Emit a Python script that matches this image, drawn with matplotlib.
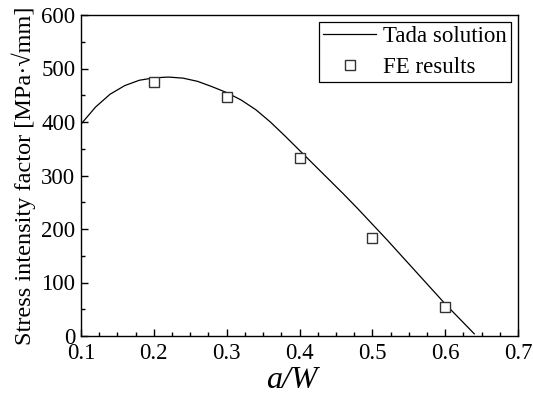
import matplotlib
matplotlib.use("Agg")
import matplotlib.pyplot as plt
from matplotlib.ticker import MultipleLocator

# Tada solution curve
tada_x = [0.10, 0.12, 0.14, 0.16, 0.18, 0.20, 0.22, 0.24, 0.26, 0.28, 0.30,
          0.32, 0.34, 0.36, 0.38, 0.40, 0.42, 0.44, 0.46, 0.48, 0.50,
          0.52, 0.54, 0.56, 0.58, 0.60, 0.62, 0.64]
tada_y = [396, 428, 452, 468, 478, 482.5, 484, 482, 476, 466, 455,
          441, 423, 400, 374, 347, 320, 293, 266, 238, 209,
          180, 150, 120, 90, 60, 32, 4]

# FE results
fe_x = [0.2, 0.3, 0.4, 0.5, 0.6]
fe_y = [475, 447, 332, 184, 55]

xticks = [0.1, 0.2, 0.3, 0.4, 0.5, 0.6, 0.7]
yticks = [0, 100, 200, 300, 400, 500, 600]

plt.rcParams['font.family'] = ['Liberation Serif', 'DejaVu Serif']

fig = plt.figure(figsize=(5.33, 3.94), dpi=100)
ax = fig.add_axes([81/533, 1 - 336/394, (518-81)/533, (336-15)/394])

ax.plot(tada_x, tada_y, color='black', lw=0.9, label='Tada solution')
ax.plot(fe_x, fe_y, linestyle='none', marker='s', markersize=7.8,
        markerfacecolor='white', markeredgecolor='#333333', markeredgewidth=1.0,
        label='FE results')

ax.set_xlim(0.1, 0.7)
ax.set_ylim(0, 600)
ax.set_xticks(xticks)
ax.set_xticklabels([f"{v:.1f}" for v in xticks])
ax.set_yticks(yticks)
ax.set_yticklabels([str(v) for v in yticks])
ax.xaxis.set_minor_locator(MultipleLocator(0.025))
ax.yaxis.set_minor_locator(MultipleLocator(50))
ax.tick_params(which='both', direction='in', top=False, right=False,
               labelsize=16.5, width=1.0, colors='black')
ax.tick_params(which='major', length=5, pad=4)
ax.tick_params(axis='x', which='major', pad=5)
ax.tick_params(which='minor', length=3)
for s in ax.spines.values():
    s.set_linewidth(1.0)

ax.set_xlabel('a/W', fontsize=23, style='italic')
ax.xaxis.set_label_coords(0.4817, -0.092, transform=ax.transAxes)
ax.xaxis.label.set_va('top')
ax.set_ylabel('Stress intensity factor [MPa\u00b7\u221amm]', fontsize=17.5, labelpad=4)

leg = ax.legend(loc='upper right', fontsize=16.5, frameon=True, fancybox=False,
                edgecolor='black', framealpha=1, handlelength=2.3,
                borderaxespad=0.3, borderpad=0.2, labelspacing=0.4,
                handletextpad=0.3)
leg.get_frame().set_linewidth(0.9)

fig.savefig('out.png', dpi=100)
